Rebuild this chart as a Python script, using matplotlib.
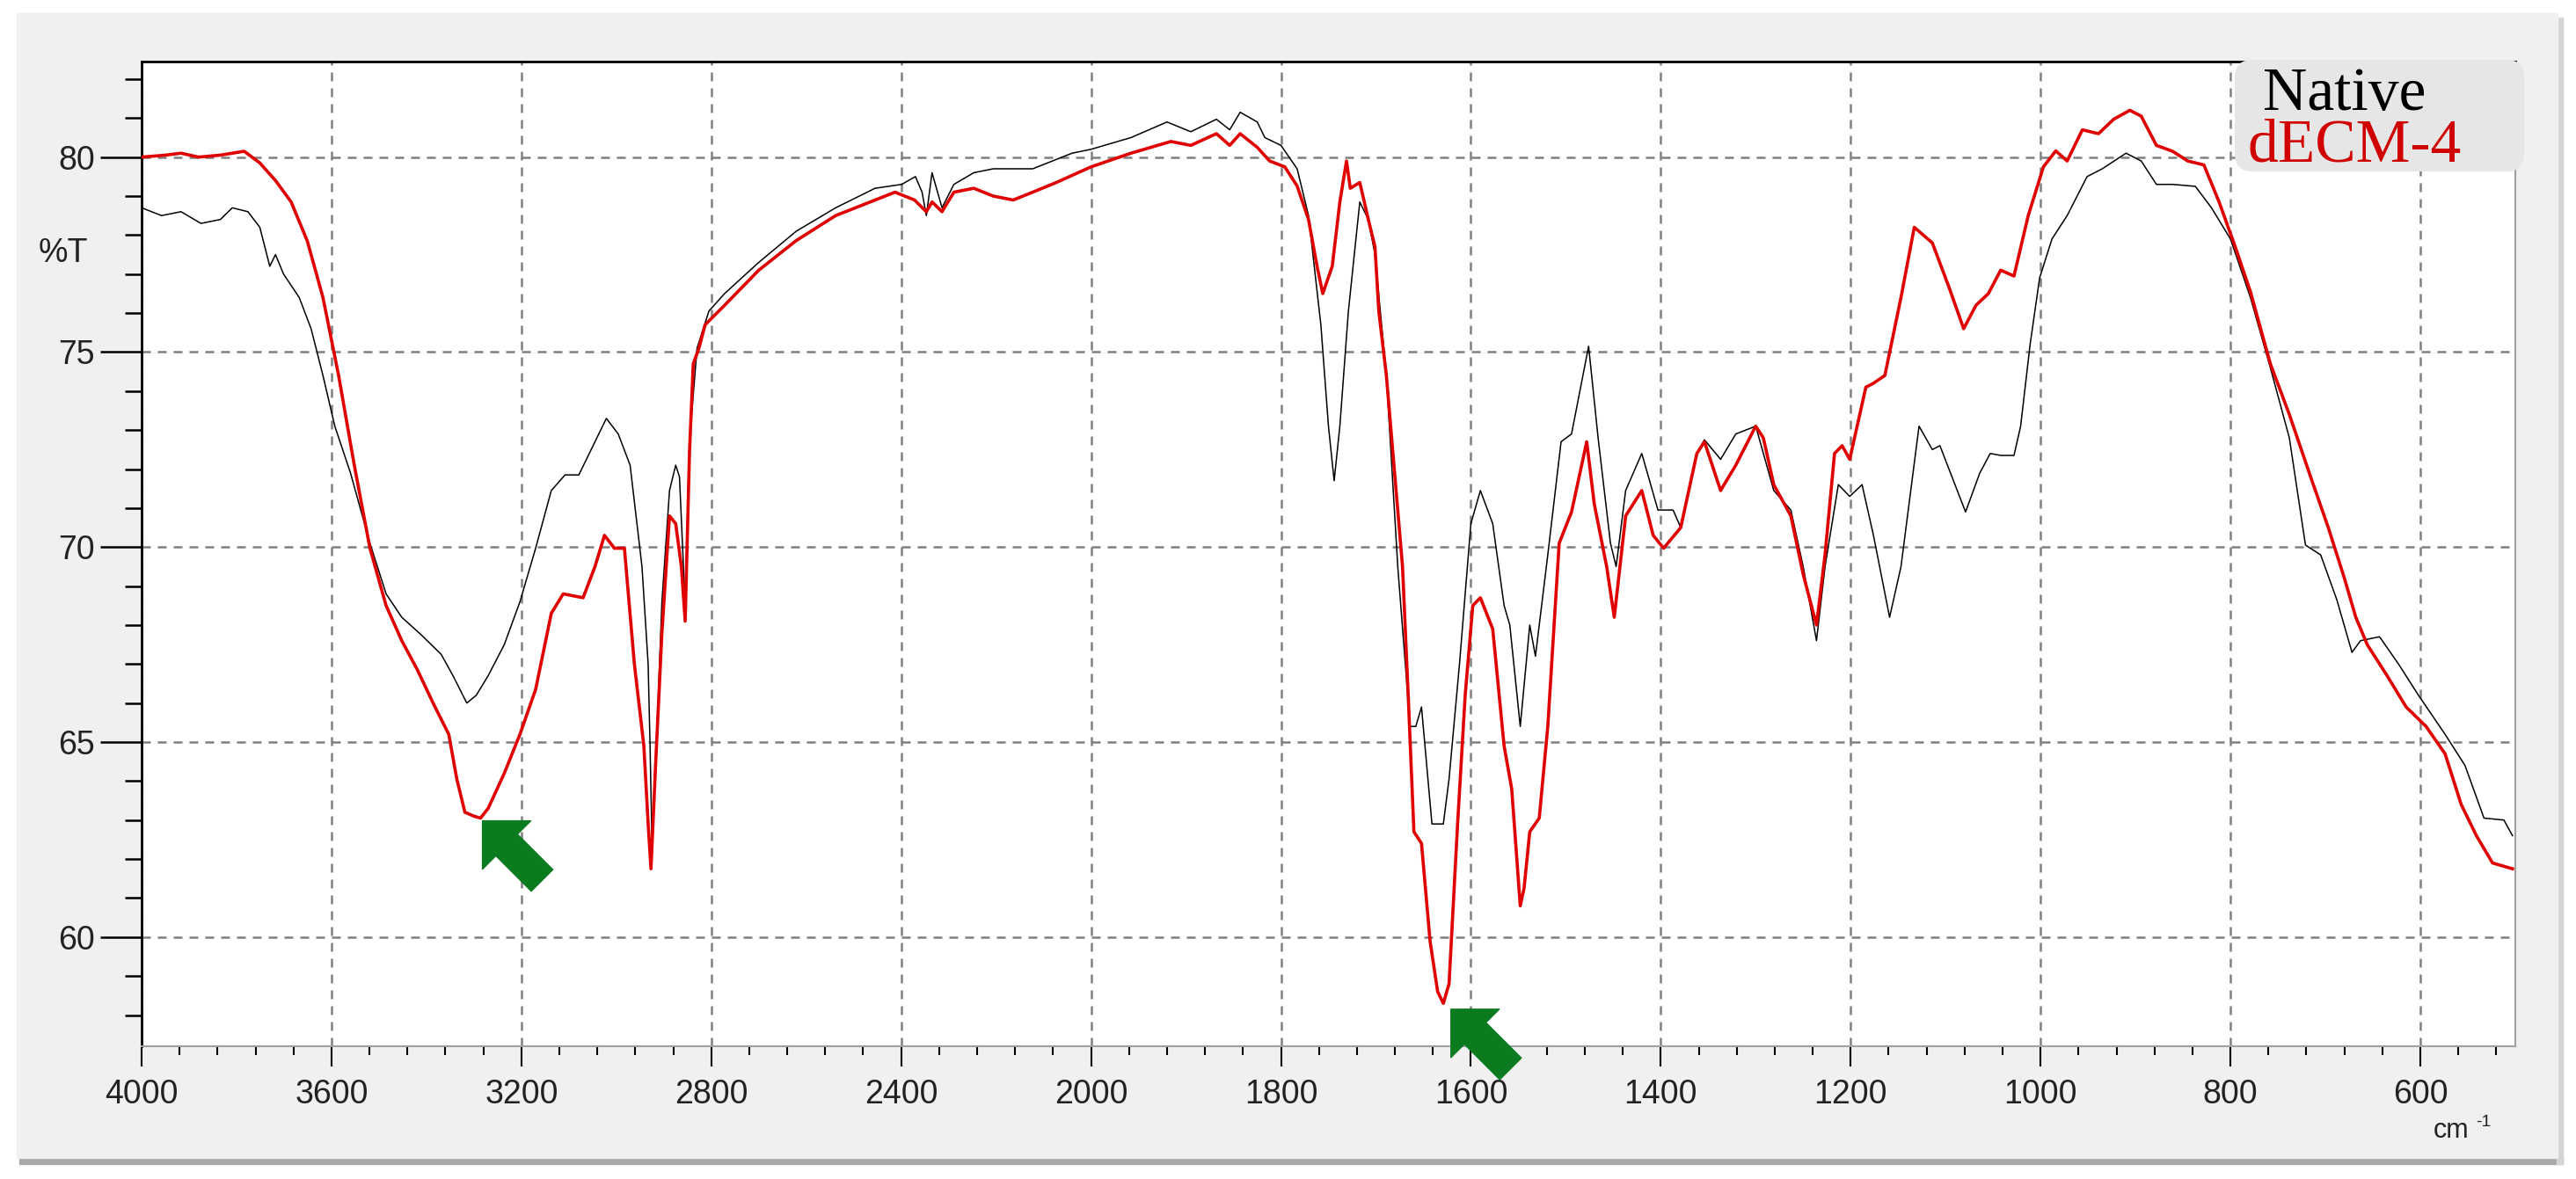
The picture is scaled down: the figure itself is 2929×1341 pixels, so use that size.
import numpy as np
import matplotlib
matplotlib.use('Agg')
import matplotlib.pyplot as plt
from matplotlib.patches import Rectangle, FancyBboxPatch

plt.rcParams['font.family'] = ['Liberation Sans', 'DejaVu Sans']

# Native (黑线)
native_wn = [4000, 3958, 3917, 3875, 3834, 3809, 3776, 3751, 3730, 3718, 3701, 3668, 3643, 3618,
             3593, 3560, 3519, 3485, 3452, 3411, 3369, 3344, 3315, 3295, 3270, 3236, 3203, 3170,
             3137, 3108, 3079, 3021, 2996, 2971, 2946, 2933, 2929, 2925, 2917, 2904, 2888, 2875,
             2867, 2859, 2855, 2846, 2830, 2805, 2772, 2700, 2621, 2538, 2455, 2399, 2370, 2356,
             2347, 2335, 2314, 2289, 2247, 2206, 2123, 2040, 2000, 1958, 1920, 1895, 1868, 1854,
             1843, 1825, 1817, 1800, 1783, 1771, 1758, 1750, 1744, 1738, 1729, 1717, 1708, 1701,
             1689, 1677, 1664, 1658, 1652, 1641, 1629, 1623, 1612, 1600, 1590, 1577, 1565, 1559,
             1548, 1538, 1532, 1519, 1505, 1494, 1476, 1466, 1453, 1447, 1437, 1420, 1403, 1387,
             1379, 1362, 1354, 1337, 1321, 1300, 1281, 1263, 1250, 1236, 1227, 1213, 1201, 1188,
             1176, 1159, 1147, 1128, 1114, 1106, 1079, 1064, 1053, 1042, 1028, 1021, 1011, 1001,
             988, 972, 951, 935, 910, 894, 878, 861, 837, 820, 800, 779, 758, 738, 721, 705, 688,
             672, 663, 643, 623, 602, 574, 553, 533, 512, 503]
native_t = [78.7, 78.5, 78.6, 78.3, 78.4, 78.7, 78.6, 78.2, 77.2, 77.5, 77.0, 76.4, 75.6, 74.4,
            73.1, 71.9, 70.1, 68.8, 68.2, 67.75, 67.25, 66.7, 66.0, 66.2, 66.7, 67.5, 68.6, 69.97,
            71.45, 71.85, 71.85, 73.3, 72.9, 72.1, 69.5, 67.0, 64.9, 62.5, 64.5, 68.6, 71.45, 72.1,
            71.8, 69.6, 68.5, 72.7, 75.1, 76.05, 76.5, 77.3, 78.1, 78.7, 79.2, 79.3, 79.5, 79.1,
            78.5, 79.6, 78.7, 79.3, 79.6, 79.7, 79.7, 80.1, 80.2, 80.5, 80.9, 80.65, 80.97, 80.7,
            81.15, 80.9, 80.5, 80.3, 79.7, 78.5, 75.7, 73.1, 71.7, 73.1, 76.05, 78.85, 78.4, 77.5,
            74.4, 69.5, 65.4, 65.4, 65.9, 62.9, 62.9, 64.05, 67.0, 70.6, 71.45, 70.6, 68.5, 68.0,
            65.4, 68.0, 67.2, 69.8, 72.7, 72.9, 75.15, 72.8, 70.1, 69.5, 71.45, 72.4, 70.95, 70.95,
            70.5, 72.4, 72.75, 72.25, 72.9, 73.1, 71.45, 70.95, 69.5, 67.6, 69.5, 71.6, 71.3, 71.6,
            70.3, 68.2, 69.5, 73.1, 72.5, 72.6, 70.9, 71.9, 72.4, 72.35, 72.35, 73.1, 75.2, 76.9,
            77.9, 78.5, 79.5, 79.7, 80.1, 79.9, 79.3, 79.3, 79.25, 78.7, 77.9, 76.4, 74.6, 72.8,
            70.05, 69.8, 68.65, 67.3, 67.6, 67.7, 67.0, 66.2, 65.2, 64.4, 63.05, 63.0, 62.6]

# dECM-4 (红线)
decm_wn = [4000, 3950, 3917, 3880, 3834, 3784, 3751, 3718, 3685, 3651, 3618, 3585, 3552, 3519,
           3485, 3452, 3419, 3386, 3353, 3336, 3319, 3300, 3286, 3270, 3236, 3203, 3170, 3137,
           3112, 3070, 3045, 3025, 3004, 2983, 2962, 2942, 2933, 2927, 2917, 2904, 2888, 2875,
           2863, 2855, 2846, 2838, 2826, 2813, 2772, 2700, 2621, 2538, 2455, 2413, 2372, 2347,
           2335, 2314, 2289, 2247, 2206, 2164, 2123, 2073, 2000, 1958, 1916, 1895, 1868, 1854,
           1843, 1825, 1812, 1796, 1783, 1771, 1762, 1756, 1746, 1738, 1731, 1727, 1717, 1708,
           1701, 1697, 1689, 1681, 1672, 1666, 1660, 1652, 1643, 1635, 1629, 1623, 1614, 1606,
           1598, 1590, 1577, 1565, 1557, 1548, 1544, 1538, 1528, 1519, 1507, 1494, 1478, 1470,
           1457, 1449, 1437, 1420, 1408, 1397, 1379, 1362, 1354, 1337, 1321, 1300, 1292, 1281,
           1263, 1250, 1236, 1227, 1217, 1209, 1201, 1184, 1176, 1164, 1147, 1133, 1114, 1097,
           1081, 1068, 1055, 1042, 1028, 1013, 997, 984, 972, 956, 939, 923, 906, 894, 878, 861,
           845, 828, 812, 795, 779, 758, 738, 717, 697, 680, 668, 656, 635, 615, 594, 574, 557,
           541, 524, 503]
decm_t = [80.0, 80.05, 80.1, 80.0, 80.05, 80.15, 79.85, 79.4, 78.85, 77.85, 76.4, 74.4, 72.1, 69.97,
          68.5, 67.6, 66.85, 66.0, 65.2, 64.05, 63.2, 63.1, 63.05, 63.3, 64.2, 65.2, 66.35, 68.3,
          68.8, 68.7, 69.5, 70.3, 69.97, 69.97, 67.0, 64.9, 62.9, 61.75, 64.5, 67.8, 70.8, 70.6,
          69.5, 68.1, 72.4, 74.7, 75.1, 75.7, 76.2, 77.1, 77.86, 78.5, 78.9, 79.1, 78.9, 78.6,
          78.85, 78.6, 79.1, 79.2, 79.0, 78.9, 79.1, 79.35, 79.75, 80.1, 80.4, 80.3, 80.6, 80.3,
          80.6, 80.25, 79.9, 79.75, 79.26, 78.4, 77.2, 76.5, 77.2, 78.85, 79.9, 79.2, 79.35, 78.4,
          77.7, 76.05, 74.4, 72.1, 69.5, 66.2, 62.7, 62.4, 59.9, 58.6, 58.3, 58.8, 62.9, 66.2,
          68.5, 68.7, 67.9, 64.9, 63.8, 60.8, 61.25, 62.7, 63.05, 65.4, 70.1, 70.9, 72.7, 71.1,
          69.5, 68.2, 70.8, 71.45, 70.3, 69.97, 70.5, 72.4, 72.7, 71.45, 72.1, 73.1, 72.8, 71.6,
          70.8, 69.3, 68.0, 69.8, 72.4, 72.6, 72.25, 74.1, 74.2, 74.4, 76.4, 78.2, 77.8, 76.7,
          75.6, 76.2, 76.5, 77.1, 76.95, 78.5, 79.75, 80.16, 79.9, 80.7, 80.6, 80.97, 81.2, 81.05,
          80.3, 80.15, 79.9, 79.8, 78.85, 77.7, 76.55, 74.7, 73.4, 71.9, 70.5, 69.2, 68.2, 67.5,
          66.7, 65.9, 65.4, 64.7, 63.4, 62.6, 61.9, 61.75]

x_ticks = [4000, 3600, 3200, 2800, 2400, 2000, 1800, 1600, 1400, 1200, 1000, 800, 600]
y_ticks = [60, 65, 70, 75, 80]
arrow_tips = [(3282, 62.98), (1621, 58.15)]
legend_names = ['Native', 'dECM-4']

W, H = 2929, 1341
fig = plt.figure(figsize=(W / 100, H / 100), dpi=100)
fig.patch.set_facecolor('white')
inch = fig.dpi_scale_trans


def box(x0, y0, x1, y1):
    # 像素坐标(左上原点) -> 英寸坐标
    return (x0 / 100, (H - y1) / 100), (x1 - x0) / 100, (y1 - y0) / 100


# 灰色窗口背景 + 阴影
for (x0, y0, x1, y1), c in [((22, 1316, 2914, 1324), '#a9a9a9'),
                            ((2907, 20, 2914, 1324), '#d4d4d4'),
                            ((19, 15, 2908, 1317), '#f0f0f0')]:
    xy, w, h = box(x0, y0, x1, y1)
    fig.add_artist(Rectangle(xy, w, h, transform=inch, color=c, zorder=-5))

ax = fig.add_axes([161 / W, 1 - 1190 / H, (2860 - 161) / W, (1190 - 70) / H])
ax.set_facecolor('white')


# 2000 cm-1 处换刻度（低波数段展开 2 倍）
def fwd(x):
    x = np.asarray(x, float)
    return np.where(x <= 2000, x, 2000 + (x - 2000) / 2)


def inv(y):
    y = np.asarray(y, float)
    return np.where(y <= 2000, y, 2000 + (y - 2000) * 2)


ax.set_xscale('function', functions=(fwd, inv))
ax.set_xlim(4000, 500)
ax.set_ylim(57.2, 82.45)

ax.plot(native_wn, native_t, color='black', lw=1.1, zorder=3)
ax.plot(decm_wn, decm_t, color='#e00000', lw=2.6, zorder=4)

ax.set_xticks(x_ticks, labels=[str(v) for v in x_ticks])
minor_x = [v for v in range(3920, 2000, -80) if v not in x_ticks] + \
          [v for v in range(1960, 499, -40) if v not in x_ticks]
ax.set_xticks(minor_x, minor=True)
ax.set_yticks(y_ticks, labels=[str(v) for v in y_ticks])
ax.set_yticks([v for v in range(58, 83) if v not in y_ticks], minor=True)

ax.grid(True, which='major', color='#808080', linestyle=(0, (4, 3.2)), linewidth=1.8)
ax.tick_params(axis='y', which='major', length=34, width=1.8, pad=4, labelsize=27,
               labelcolor='#222222')
ax.tick_params(axis='y', which='minor', length=14, width=1.8)
ax.tick_params(axis='x', which='major', length=16.5, width=1.5, pad=10, labelsize=27,
               labelcolor='#222222')
ax.tick_params(axis='x', which='minor', length=7.5, width=1.5)
for s in ['left', 'top']:
    ax.spines[s].set_color('black')
    ax.spines[s].set_linewidth(2)
for s in ['bottom', 'right']:
    ax.spines[s].set_color('#a0a0a0')
    ax.spines[s].set_linewidth(1.5)

# 绿色箭头
for tip in arrow_tips:
    ax.annotate('', xy=tip, xytext=(48.8, -48.8), textcoords='offset points',
                annotation_clip=False,
                arrowprops=dict(arrowstyle='simple,head_length=28,head_width=56,tail_width=25',
                                color='#0c7a1f', shrinkA=0, shrinkB=0, mutation_scale=1))

# 图例框
xy, w, h = box(2541, 68, 2870, 195)
fig.add_artist(FancyBboxPatch(xy, w, h, boxstyle='round,pad=0,rounding_size=0.2',
                              transform=inch, facecolor='#e6e6e6', edgecolor='none', zorder=5))
serif = ['Liberation Serif', 'DejaVu Serif']
fig.text(2573 / W, 1 - 125 / H, legend_names[0], family=serif, size=50, color='black',
         va='baseline', zorder=6)
fig.text(2555 / W, 1 - 184 / H, legend_names[1], family=serif, size=50, color='#d00000',
         va='baseline', zorder=6)

fig.text(72 / W, 1 - 288 / H, '%T', size=27, ha='center', va='center', color='#222222')
fig.text(2767 / W, 1 - 1294 / H, 'cm', size=22, va='baseline', color='#222222')
fig.text(2815 / W, 1 - 1281 / H, '-1', size=14, va='baseline', color='#222222')

fig.savefig('out.png', dpi=100, facecolor=fig.get_facecolor())
